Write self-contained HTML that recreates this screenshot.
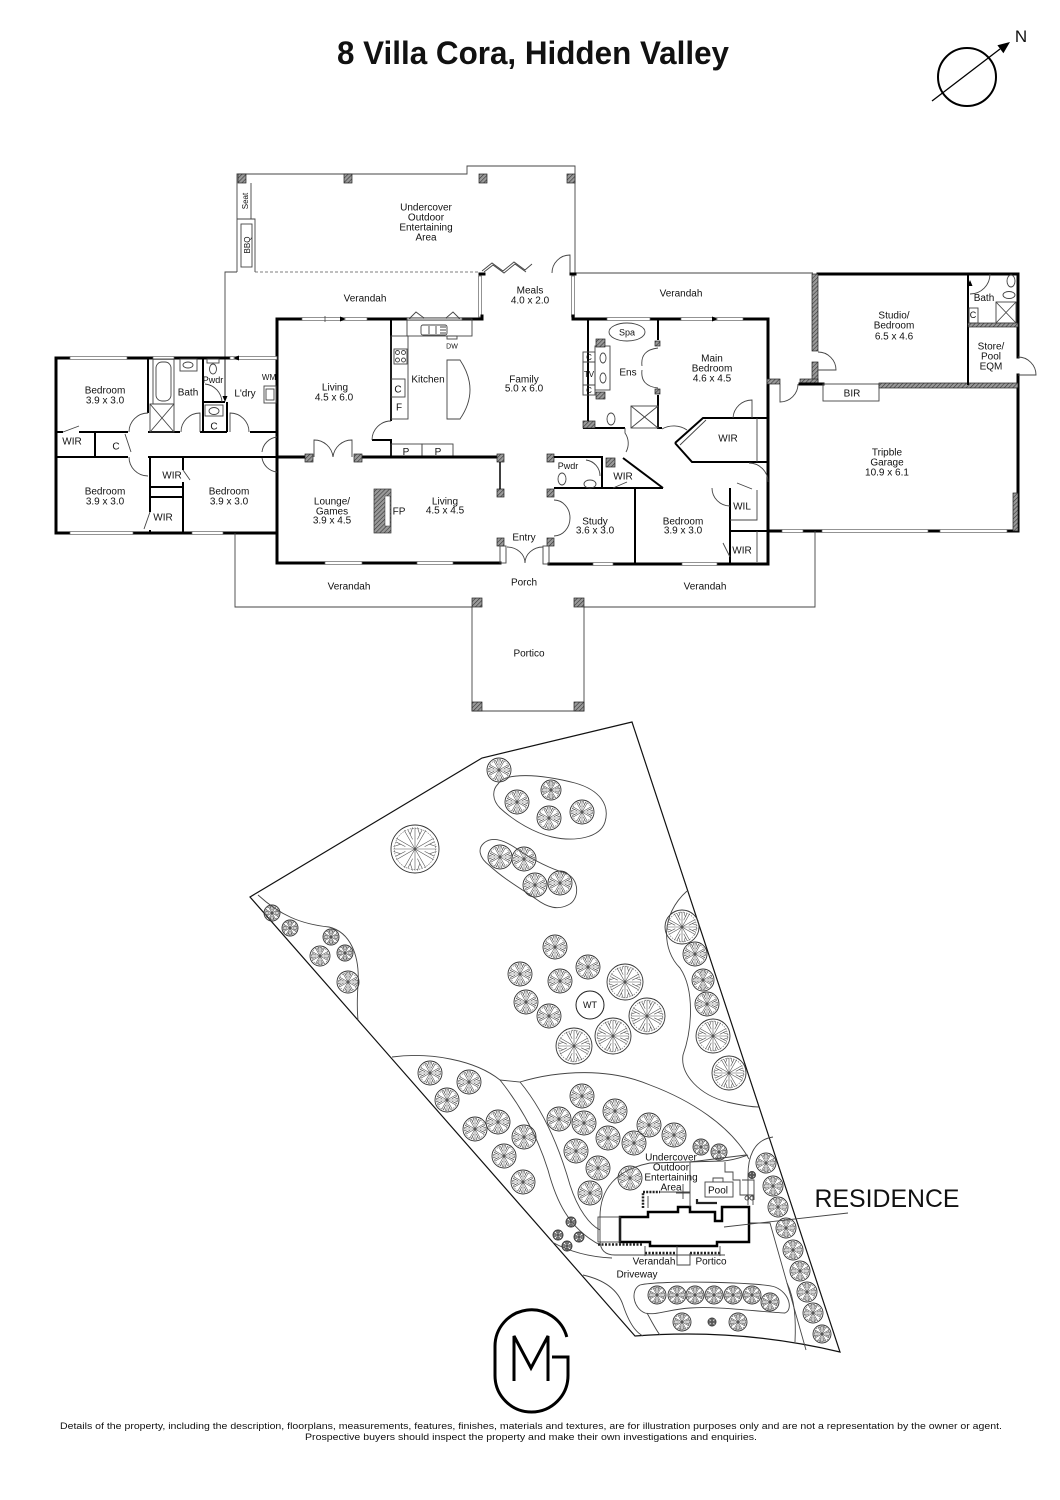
<!DOCTYPE html>
<html><head><meta charset="utf-8"><style>
html,body{margin:0;padding:0;background:#fff;}
svg{display:block;}
text{font-family:"Liberation Sans",Arial,sans-serif;fill:#111;}
.l{font-size:10px;text-anchor:middle;}
.s{font-size:8px;text-anchor:middle;}
.m{font-size:9px;text-anchor:middle;}
.w{stroke:#000;stroke-width:3;fill:none;stroke-linecap:square;}
.iw{stroke:#000;stroke-width:2;fill:none;}
.t{stroke:#444;stroke-width:0.9;fill:none;}
.win{fill:#fff;stroke:#666;stroke-width:0.7;}
.hp{fill:url(#h);stroke:#222;stroke-width:0.7;}
</style></head><body>
<svg width="1060" height="1500" viewBox="0 0 1060 1500" xmlns="http://www.w3.org/2000/svg">
<defs>
<pattern id="h" width="3" height="3" patternUnits="userSpaceOnUse" patternTransform="rotate(45)"><rect width="3" height="3" fill="#9a9a9a"/><line x1="0" y1="0" x2="0" y2="3" stroke="#333" stroke-width="1.2"/></pattern>
<g id="tr">
<circle r="10" fill="none" stroke="#333" stroke-width="0.9" vector-effect="non-scaling-stroke"/>
<circle r="8.6" fill="none" stroke="#666" stroke-width="0.6" stroke-dasharray="1.5,1.2" vector-effect="non-scaling-stroke"/>
<path d="M0,0L9,0M0,0L7.8,4.5M0,0L4.5,7.8M0,0L0,9M0,0L-4.5,7.8M0,0L-7.8,4.5M0,0L-9,0M0,0L-7.8,-4.5M0,0L-4.5,-7.8M0,0L0,-9M0,0L4.5,-7.8M0,0L7.8,-4.5M4,1L8,3M1,4L3,8M-4,1L-8,3M-1,4L-3,8M-4,-1L-8,-3M-1,-4L-3,-8M4,-1L8,-3M1,-4L3,-8M6,2L9,1M2,6L1,9M-6,2L-9,1M-2,6L-1,9M-6,-2L-9,-1M-2,-6L-1,-9M6,-2L9,-1M2,-6L1,-9" stroke="#555" stroke-width="0.6" fill="none" vector-effect="non-scaling-stroke"/>
</g>
</defs>
<rect width="1060" height="1500" fill="#fff"/>

<!-- Title -->
<text x="533" y="64" font-size="32" font-weight="bold" text-anchor="middle" textLength="392" lengthAdjust="spacingAndGlyphs">8 Villa Cora, Hidden Valley</text>

<!-- Compass -->
<circle cx="967" cy="77" r="29" fill="none" stroke="#000" stroke-width="2"/>
<line x1="932" y1="101" x2="1000" y2="49" stroke="#000" stroke-width="1.3"/>
<polygon points="1010,42 1003.4,53.3 997.4,45.3" fill="#000"/>
<text x="1021" y="42" font-size="17" text-anchor="middle">N</text>

<!-- ============ FLOOR PLAN ============ -->
<path class="t" d="M237,272 V174 H467 V166 H575 V273"/>
<path class="t" d="M251,183 V219 M237,219 H255 V272"/>
<rect class="t" x="241" y="224" width="11" height="43"/>
<text class="s" transform="translate(248,201) rotate(-90)">Seat</text>
<text class="s" transform="translate(250,245) rotate(-90)">BBQ</text>
<rect class="hp" x="238" y="174" width="8" height="9"/>
<rect class="hp" x="344" y="174" width="8" height="9"/>
<rect class="hp" x="479" y="174" width="8" height="9"/>
<rect class="hp" x="567" y="174" width="8" height="9"/>
<line x1="255" y1="272" x2="480" y2="272" stroke="#555" stroke-width="0.8" stroke-dasharray="3,2"/>
<path class="t" d="M225,359 V272 H237"/>
<path class="t" d="M575,273 H813"/>
<polyline class="t" points="482,271 492,263 503,271 514,262 525,270 532,264"/>
<polyline class="t" points="484,272 493,265 504,273 515,264 526,272"/>
<path class="t" d="M570,273 V255 A18,18 0 0 0 552,273"/>
<text class="l" x="426" y="210.5">Undercover</text>
<text class="l" x="426" y="220.5">Outdoor</text>
<text class="l" x="426" y="230.5">Entertaining</text>
<text class="l" x="426" y="240.5">Area</text>

<path class="w" d="M480,274 H484"/>
<rect class="win" x="478.5" y="276" width="3" height="41"/>
<path class="w" d="M462,319 H482 V316"/>
<path class="w" d="M571,274 H575"/>
<rect class="win" x="571.5" y="276" width="3" height="41"/>

<path class="w" d="M277,358 H56 V533 H277"/>
<path class="w" d="M277,319 V563 H500"/>
<path class="w" d="M277,319 H407"/>
<path class="w" d="M573,316 V319 H768 V564 H549"/>
<path class="w" d="M768,531 H1018 V375 M1018,357 V274 H818"/>

<rect class="win" x="70" y="356.5" width="57" height="3"/>
<rect class="win" x="153" y="356.5" width="21" height="3"/>
<rect class="win" x="230" y="356.5" width="47" height="3"/>
<polygon points="233,358 239,355.5 239,360.5" fill="#000"/>
<rect class="win" x="70" y="531.5" width="63" height="3"/>
<rect class="win" x="192" y="531.5" width="31" height="3"/>
<rect class="win" x="302" y="317.5" width="65" height="3"/>
<line x1="325" y1="316" x2="325" y2="322" stroke="#444" stroke-width="0.8"/>
<polygon points="346,319 340,316.5 340,321.5" fill="#000"/>
<rect class="win" x="407" y="317.5" width="55" height="3"/>
<polyline class="t" points="409,319 416,312 424,318"/>
<polyline class="t" points="446,318 453,312 460,319"/>
<rect class="win" x="325" y="561.5" width="37" height="3"/>
<rect class="win" x="417" y="561.5" width="36" height="3"/>
<rect class="win" x="607" y="317.5" width="43" height="3"/>
<rect class="win" x="681" y="317.5" width="62" height="3"/>
<polygon points="718,319 712,316.5 712,321.5" fill="#000"/>
<rect class="win" x="593" y="562.5" width="20" height="3"/>
<rect class="win" x="682" y="562.5" width="35" height="3"/>
<rect class="win" x="782" y="529.5" width="21" height="3"/>
<rect class="win" x="822" y="529.5" width="106" height="3"/>
<rect class="win" x="940" y="529.5" width="67" height="3"/>

<!-- Left wing internals -->
<path class="iw" d="M148,358 V413 M148,432 H180 M200,432 H227 M203,358 V432 M203,402 H225 M227,402 V432 M250,432 H277"/>
<path class="iw" d="M79,432 H128 M56,432 H63 M95,432 V457 M56,457 H128 M148,457 H277"/>
<path class="t" d="M63,432 L79,426 M125,434 L131,452"/>
<path class="t" d="M148,413 A19,19 0 0 0 129,432"/>
<path class="t" d="M148,476 A19,19 0 0 1 129,457"/>
<path class="t" d="M200,432 V413 A19,19 0 0 0 181,432"/>
<path class="t" d="M230,432 V413 A19,19 0 0 1 249,432"/>
<path class="t" d="M277,437 A17,17 0 0 0 262,452 M277,472 A17,17 0 0 1 262,458"/>
<path class="iw" d="M150,457 V512 M150,530 V533 M183,457 V470 M183,482 V533 M150,487 H183 M150,497 H183"/>
<path class="t" d="M150,512 L144,529 M183,470 L190,480"/>
<line x1="225" y1="359" x2="225" y2="400" stroke="#222" stroke-width="1"/>
<polygon points="225,402 222.5,396 227.5,396" fill="#000"/>
<path class="t" d="M205,384 A19,19 0 0 1 222,402"/>
<rect class="t" x="153" y="359" width="21" height="45"/>
<rect class="t" x="156" y="362" width="15" height="39" rx="6"/>
<rect class="t" x="150" y="404" width="24" height="28"/>
<path class="t" d="M150,404 L174,432 M174,404 L150,432"/>
<rect class="t" x="180" y="359" width="17" height="12"/>
<ellipse class="t" cx="188" cy="365" rx="5" ry="3"/>
<rect class="t" x="207" y="359" width="12" height="4"/>
<ellipse class="t" cx="213" cy="369" rx="3.5" ry="5"/>
<rect class="t" x="205" y="405" width="18" height="11"/>
<ellipse class="t" cx="214" cy="411" rx="5" ry="3.5"/>
<rect class="t" x="264" y="386" width="12" height="17"/>
<rect class="t" x="266" y="389" width="8" height="11"/>
<text class="l" x="105" y="393.5">Bedroom</text><text class="l" x="105" y="403.5">3.9 x 3.0</text>
<text class="l" x="188" y="395.5">Bath</text>
<text class="m" x="213" y="383">Pwdr</text>
<text class="l" x="214" y="429.5">C</text>
<text class="l" x="245" y="396.5">L'dry</text>
<text class="s" x="269" y="380">WM</text>
<text class="l" x="72" y="444.5">WIR</text>
<text class="l" x="116" y="449.5">C</text>
<text class="l" x="172" y="478.5">WIR</text>
<text class="l" x="163" y="520.5">WIR</text>
<text class="l" x="105" y="494.5">Bedroom</text><text class="l" x="105" y="504.5">3.9 x 3.0</text>
<text class="l" x="229" y="494.5">Bedroom</text><text class="l" x="229" y="504.5">3.9 x 3.0</text>

<!-- Central -->
<path class="iw" d="M391,319 V421 M372,440 H391 V457"/>
<path class="t" d="M391,421 A19,19 0 0 0 372,440"/>
<rect class="t" x="407" y="319" width="65" height="17"/>
<rect class="t" x="421" y="325" width="26" height="10" rx="2"/>
<path class="t" d="M429,326 V334 M436,326 V334 M440,327 H446 M440,330 H446 M440,333 H446"/>
<rect class="t" x="447" y="336" width="10" height="3"/>
<text x="452" y="348.5" font-size="7" text-anchor="middle">DW</text>
<rect class="t" x="391" y="336" width="17" height="83"/>
<rect class="t" x="394" y="349" width="13" height="15"/>
<circle class="t" cx="397.5" cy="352.5" r="2"/><circle class="t" cx="403.5" cy="352.5" r="2"/>
<circle class="t" cx="397.5" cy="360" r="2"/><circle class="t" cx="403.5" cy="360" r="2"/>
<rect class="t" x="391" y="379" width="14" height="18"/>
<path class="t" d="M447,360 H460 Q480,390 460,419 H447 Z"/>
<rect class="t" x="391" y="444" width="31" height="13"/>
<rect class="t" x="422" y="444" width="31" height="13"/>
<path class="w" d="M277,457 H305 M362,457 H497"/>
<rect class="hp" x="305" y="454" width="8" height="8"/>
<rect class="hp" x="354" y="454" width="8" height="8"/>
<path class="t" d="M314,457 V440 A19,19 0 0 1 333,457 M352,457 V440 A19,19 0 0 0 333,457"/>
<rect class="hp" x="497" y="454" width="7" height="8"/>
<rect class="hp" x="497" y="489" width="7" height="8"/>
<rect class="hp" x="497" y="538" width="7" height="8"/>
<line x1="500" y1="462" x2="500" y2="489" stroke="#000" stroke-width="1.5"/>
<rect class="hp" x="547" y="454" width="7" height="8"/>
<rect class="hp" x="547" y="489" width="7" height="8"/>
<rect class="hp" x="547" y="538" width="7" height="8"/>
<rect class="t" x="500" y="546" width="6" height="17"/>
<rect class="t" x="543" y="546" width="6" height="18"/>
<path class="t" d="M507,547 A18,16 0 0 1 525,563 M543,547 A18,16 0 0 0 525,563"/>
<path class="t" d="M554,500 A16,18 0 0 1 554,536"/>
<rect x="374" y="489" width="17" height="44" fill="url(#h)" stroke="#333" stroke-width="0.7"/>
<rect x="385" y="496" width="5" height="30" fill="#fff" stroke="#333" stroke-width="0.5"/>
<text class="l" x="335" y="390.5">Living</text><text class="l" x="334" y="400.5">4.5 x 6.0</text>
<text class="l" x="428" y="382.5">Kitchen</text>
<text class="l" x="524" y="382.5">Family</text><text class="l" x="524" y="391.5">5.0 x 6.0</text>
<text class="l" x="398" y="392.5">C</text>
<text class="l" x="399" y="410.5">F</text>
<text class="l" x="406" y="455">P</text><text class="l" x="438" y="455">P</text>
<text class="l" x="332" y="504.5">Lounge/</text><text class="l" x="332" y="514.5">Games</text><text class="l" x="332" y="523.5">3.9 x 4.5</text>
<text class="l" x="399" y="514.5">FP</text>
<text class="l" x="445" y="504.5">Living</text><text class="l" x="445" y="513.5">4.5 x 4.5</text>
<text class="l" x="524" y="540.5">Entry</text>
<text class="l" x="365" y="301.5">Verandah</text>
<text class="l" x="530" y="293.5">Meals</text><text class="l" x="530" y="303.5">4.0 x 2.0</text>
<text class="l" x="681" y="296.5">Verandah</text>

<!-- Right block internals -->
<path class="iw" d="M588,319 V428 M583,428 H625 M658,319 V340 M658,395 V428 H662"/>
<rect class="t" x="583" y="352" width="12" height="10"/>
<rect class="t" x="583" y="362" width="12" height="23"/>
<rect class="t" x="583" y="385" width="12" height="10"/>
<rect class="t" x="595" y="346" width="15" height="44"/>
<ellipse class="t" cx="603" cy="358" rx="3" ry="5"/>
<ellipse class="t" cx="603" cy="378" rx="3" ry="5"/>
<rect class="hp" x="596" y="339" width="9" height="8"/>
<rect class="hp" x="596" y="392" width="9" height="7"/>
<rect class="hp" x="583" y="421" width="12" height="7"/>
<ellipse class="t" cx="627" cy="332" rx="18" ry="9"/>
<rect class="hp" x="655" y="341" width="5" height="5"/>
<rect class="hp" x="655" y="389" width="5" height="5"/>
<path class="t" d="M658,348 Q640,350 642,366 M658,388 Q640,386 642,370"/>
<rect class="t" x="631" y="406" width="27" height="22"/>
<path class="t" d="M631,406 L658,428 M658,406 L631,428"/>
<ellipse class="t" cx="611" cy="419" rx="4" ry="6"/>
<path class="t" d="M625,428 V433 A18,18 0 0 1 626,452"/>
<path class="t" d="M662,429 A24,24 0 0 1 687,430"/>
<path class="iw" d="M675,443 L703,418 H768 M675,443 L692,462 H768"/>
<path class="t" d="M680,445 L706,420 M757,418 V462"/>
<path class="t" d="M752,418 V400 A19,19 0 0 0 733,418"/>
<path class="t" d="M749,463 A19,19 0 0 1 768,482"/>
<path class="iw" d="M554,457 H602 V488 M554,488 H663 M623,458 L663,488 M635,488 V564 M730,488 V564 M730,531 H768"/>
<path class="t" d="M730,520 H757 V490 M757,531 V562 M737,483 L752,489 M723,543 L730,557 M613,488 L627,482"/>
<path class="t" d="M712,488 A18,18 0 0 0 730,506"/>
<path class="t" d="M586,460 A16,16 0 0 1 600,476"/>
<rect class="hp" x="606" y="458" width="9" height="9"/>
<ellipse class="t" cx="562" cy="479" rx="4" ry="6"/>
<ellipse class="t" cx="590" cy="484" rx="6" ry="4"/>
<text class="s" x="589" y="360">C</text>
<text class="s" x="589" y="377">TV</text>
<text class="s" x="589" y="393">C</text>
<text class="m" x="627" y="335.5">Spa</text>
<text class="l" x="628" y="375.5">Ens</text>
<text class="l" x="712" y="361.5">Main</text><text class="l" x="712" y="371.5">Bedroom</text><text class="l" x="712" y="381.5">4.6 x 4.5</text>
<text class="l" x="728" y="441.5">WIR</text>
<text class="m" x="568" y="469">Pwdr</text>
<text class="l" x="623" y="479.5">WIR</text>
<text class="l" x="595" y="524.5">Study</text><text class="l" x="595" y="533.5">3.6 x 3.0</text>
<text class="l" x="683" y="524.5">Bedroom</text><text class="l" x="683" y="533.5">3.9 x 3.0</text>
<text class="l" x="742" y="509.5">WIL</text>
<text class="l" x="742" y="553.5">WIR</text>

<!-- Studio / garage -->
<rect class="hp" x="812" y="274" width="6" height="77"/>
<rect class="hp" x="812" y="362" width="6" height="22"/>
<rect class="hp" x="800" y="379" width="18" height="5"/>
<rect class="hp" x="767" y="379" width="13" height="5"/>
<path class="t" d="M780,384 V402 A18,18 0 0 0 798,384"/>
<path class="t" d="M818,370 H836 A18,18 0 0 0 818,352"/>
<path class="w" d="M800,384 H823"/>
<rect class="t" x="823" y="384" width="56" height="17"/>
<rect class="hp" x="879" y="383" width="139" height="5"/>
<path d="M968,274 V385" stroke="#000" stroke-width="2"/>
<rect class="hp" x="968" y="323" width="50" height="4"/>
<path class="t" d="M970,294 A20,20 0 0 0 990,274"/>
<polygon points="970,280 967.5,286 972.5,286" fill="#000"/>
<ellipse class="t" cx="1011" cy="281" rx="4" ry="6"/>
<ellipse class="t" cx="1009" cy="295" rx="6" ry="3.5"/>
<rect class="t" x="996" y="302" width="20" height="21"/>
<path class="t" d="M996,302 L1016,323 M1016,302 L996,323"/>
<rect class="t" x="969" y="308" width="9" height="15"/>
<path class="t" d="M1018,375 H1036 A18,18 0 0 0 1018,357"/>
<rect class="hp" x="1013" y="493" width="5" height="38"/>
<text class="l" x="894" y="318.5">Studio/</text><text class="l" x="894" y="328.5">Bedroom</text><text class="l" x="894" y="339.5">6.5 x 4.6</text>
<text class="l" x="984" y="301">Bath</text>
<text class="m" x="973" y="318">C</text>
<text class="l" x="991" y="349.5">Store/</text><text class="l" x="991" y="359.5">Pool</text><text class="l" x="991" y="369.5">EQM</text>
<text class="l" x="852" y="396.5">BIR</text>
<text class="l" x="887" y="455.5">Tripble</text><text class="l" x="887" y="465.5">Garage</text><text class="l" x="887" y="475.5">10.9 x 6.1</text>

<!-- Verandah & Portico -->
<path class="t" d="M235,533 V607 H472 V711 H584 V607 H815 V531"/>
<rect class="hp" x="472" y="598" width="10" height="9"/>
<rect class="hp" x="574" y="598" width="10" height="9"/>
<rect class="hp" x="472" y="702" width="10" height="9"/>
<rect class="hp" x="574" y="702" width="10" height="9"/>
<text class="l" x="524" y="585.5">Porch</text>
<text class="l" x="349" y="589.5">Verandah</text>
<text class="l" x="705" y="589.5">Verandah</text>
<text class="l" x="529" y="656.5">Portico</text>

<!-- ============ SITE PLAN ============ -->
<path d="M250,897 L482,758 L632,722 L840,1352 Q740,1328 635,1336 Z" fill="none" stroke="#111" stroke-width="1.2"/>
<path class="t" d="M498,784 C505,772 540,774 575,783 C600,790 610,805 605,822 C600,838 575,842 552,837 C535,833 515,822 500,808 C492,800 492,790 498,784 Z"/>
<path class="t" d="M484,843 C492,836 505,840 520,851 C535,861 552,869 565,873 C580,878 580,900 568,905 C558,910 548,908 536,899 C520,888 504,879 490,866 C478,857 478,848 484,843 Z"/>
<path class="t" d="M258,895 C280,915 300,924 329,927 C350,932 360,955 358,985 C357,1000 357,1010 358,1020"/>
<path class="t" d="M687,891 C660,915 662,950 680,968 C695,990 692,1030 683,1055 C680,1075 700,1095 727,1102 C740,1105 750,1107 759,1107"/>
<path class="t" d="M392,1057 C430,1052 475,1060 500,1080 C520,1105 537,1135 548,1170 C556,1200 568,1228 600,1245"/>
<path class="t" d="M500,1080 L520,1082 C545,1112 560,1150 570,1185 C578,1210 590,1225 600,1230"/>
<path class="t" d="M520,1082 C560,1070 610,1068 650,1085 C690,1100 730,1125 749,1159"/>
<path class="t" d="M600,1240 V1217 C600,1190 615,1170 650,1163 L723,1161 C735,1160 742,1157 748,1155"/>
<path class="t" d="M600,1240 C600,1250 605,1255 615,1255 L725,1255"/>
<path class="t" d="M552,1242 C570,1252 590,1257 612,1258"/>
<path class="t" d="M773,1137 C752,1140 748,1160 748,1175 L748,1205"/>
<path class="t" d="M749,1223 L770,1223 L806,1350"/>
<path class="t" d="M583,1275 C605,1280 618,1290 623,1305 C628,1320 635,1332 643,1336"/>
<path class="t" d="M647,1313 C652,1322 656,1330 660,1335"/>
<path class="t" d="M787,1283 C795,1300 796,1320 795,1342"/>
<path class="t" d="M640,1285 C660,1280 760,1282 775,1287 C790,1293 793,1310 785,1313 C760,1312 720,1306 690,1308 C670,1309 655,1316 645,1313 C633,1308 630,1290 640,1285 Z"/>

<g>
<use href="#tr" transform="translate(499,770) scale(1.2)"/>
<use href="#tr" transform="translate(517,802) scale(1.2)"/>
<use href="#tr" transform="translate(551,790) scale(1.0)"/>
<use href="#tr" transform="translate(549,818) scale(1.2)"/>
<use href="#tr" transform="translate(582,812) scale(1.2)"/>
<use href="#tr" transform="translate(500,857) scale(1.2)"/>
<use href="#tr" transform="translate(524,859) scale(1.2)"/>
<use href="#tr" transform="translate(535,885) scale(1.2)"/>
<use href="#tr" transform="translate(560,883) scale(1.2)"/>
<use href="#tr" transform="translate(415,849) scale(2.4)"/>
<use href="#tr" transform="translate(272,913) scale(0.8)"/>
<use href="#tr" transform="translate(290,928) scale(0.8)"/>
<use href="#tr" transform="translate(331,937) scale(0.8)"/>
<use href="#tr" transform="translate(320,956) scale(1.0)"/>
<use href="#tr" transform="translate(345,953) scale(0.8)"/>
<use href="#tr" transform="translate(348,982) scale(1.1)"/>
<use href="#tr" transform="translate(555,947) scale(1.2)"/>
<use href="#tr" transform="translate(588,967) scale(1.2)"/>
<use href="#tr" transform="translate(520,974) scale(1.2)"/>
<use href="#tr" transform="translate(560,981) scale(1.2)"/>
<use href="#tr" transform="translate(625,982) scale(1.8)"/>
<use href="#tr" transform="translate(526,1002) scale(1.2)"/>
<use href="#tr" transform="translate(549,1016) scale(1.2)"/>
<use href="#tr" transform="translate(647,1016) scale(1.8)"/>
<use href="#tr" transform="translate(613,1036) scale(1.8)"/>
<use href="#tr" transform="translate(574,1046) scale(1.8)"/>
<use href="#tr" transform="translate(682,927) scale(1.7)"/>
<use href="#tr" transform="translate(695,954) scale(1.2)"/>
<use href="#tr" transform="translate(703,980) scale(1.1)"/>
<use href="#tr" transform="translate(707,1004) scale(1.2)"/>
<use href="#tr" transform="translate(713,1036) scale(1.7)"/>
<use href="#tr" transform="translate(729,1073) scale(1.7)"/>
<use href="#tr" transform="translate(430,1073) scale(1.2)"/>
<use href="#tr" transform="translate(469,1082) scale(1.2)"/>
<use href="#tr" transform="translate(447,1100) scale(1.2)"/>
<use href="#tr" transform="translate(475,1129) scale(1.2)"/>
<use href="#tr" transform="translate(498,1122) scale(1.2)"/>
<use href="#tr" transform="translate(524,1137) scale(1.2)"/>
<use href="#tr" transform="translate(504,1156) scale(1.2)"/>
<use href="#tr" transform="translate(523,1182) scale(1.2)"/>
<use href="#tr" transform="translate(582,1096) scale(1.2)"/>
<use href="#tr" transform="translate(559,1119) scale(1.2)"/>
<use href="#tr" transform="translate(584,1123) scale(1.2)"/>
<use href="#tr" transform="translate(615,1111) scale(1.2)"/>
<use href="#tr" transform="translate(649,1125) scale(1.2)"/>
<use href="#tr" transform="translate(608,1138) scale(1.2)"/>
<use href="#tr" transform="translate(634,1143) scale(1.2)"/>
<use href="#tr" transform="translate(674,1135) scale(1.2)"/>
<use href="#tr" transform="translate(701,1147) scale(0.8)"/>
<use href="#tr" transform="translate(719,1152) scale(0.8)"/>
<use href="#tr" transform="translate(576,1151) scale(1.2)"/>
<use href="#tr" transform="translate(598,1168) scale(1.2)"/>
<use href="#tr" transform="translate(590,1193) scale(1.2)"/>
<use href="#tr" transform="translate(630,1178) scale(1.2)"/>
<use href="#tr" transform="translate(571,1222) scale(0.5)"/>
<use href="#tr" transform="translate(558,1235) scale(0.5)"/>
<use href="#tr" transform="translate(579,1237) scale(0.5)"/>
<use href="#tr" transform="translate(567,1246) scale(0.5)"/>
<use href="#tr" transform="translate(766,1163) scale(1.0)"/>
<use href="#tr" transform="translate(773,1186) scale(1.0)"/>
<use href="#tr" transform="translate(778,1207) scale(1.0)"/>
<use href="#tr" transform="translate(786,1228) scale(1.0)"/>
<use href="#tr" transform="translate(793,1250) scale(1.0)"/>
<use href="#tr" transform="translate(800,1271) scale(1.0)"/>
<use href="#tr" transform="translate(807,1292) scale(1.0)"/>
<use href="#tr" transform="translate(813,1313) scale(1.0)"/>
<use href="#tr" transform="translate(822,1334) scale(0.9)"/>
<use href="#tr" transform="translate(657,1295) scale(0.9)"/>
<use href="#tr" transform="translate(677,1295) scale(0.9)"/>
<use href="#tr" transform="translate(695,1295) scale(0.9)"/>
<use href="#tr" transform="translate(714,1295) scale(0.9)"/>
<use href="#tr" transform="translate(733,1295) scale(0.9)"/>
<use href="#tr" transform="translate(752,1295) scale(0.9)"/>
<use href="#tr" transform="translate(770,1302) scale(0.9)"/>
<use href="#tr" transform="translate(682,1322) scale(0.9)"/>
<use href="#tr" transform="translate(712,1322) scale(0.4)"/>
<use href="#tr" transform="translate(738,1322) scale(0.9)"/>
<use href="#tr" transform="translate(752,1175) scale(0.35)"/>
</g>
<circle cx="590" cy="1005" r="14" fill="#fff" stroke="#222" stroke-width="1"/>
<text class="m" x="590" y="1008">WT</text>

<!-- Residence -->
<path d="M620,1217 H648 V1212 H678 V1207 H690 V1212 H715 V1221 H722 V1207 H749 V1242 H717 V1246 H650 V1242 H620 Z" fill="#fff" stroke="#000" stroke-width="2.5"/>
<rect class="t" x="598" y="1217" width="22" height="25"/>
<line x1="598" y1="1244.5" x2="643" y2="1244.5" stroke="#222" stroke-width="2.5" stroke-dasharray="2,1.5"/>
<line x1="645" y1="1253" x2="677" y2="1253" stroke="#222" stroke-width="2.5" stroke-dasharray="2,1.5"/>
<line x1="690" y1="1253" x2="720" y2="1253" stroke="#222" stroke-width="2.5" stroke-dasharray="2,1.5"/>
<path class="t" d="M645,1246 V1256 M677,1246 V1265 H690 V1253 M720,1246 V1256"/>
<path d="M643,1208 V1192 H660" fill="none" stroke="#222" stroke-width="2.5" stroke-dasharray="2,1.2"/>
<path class="t" d="M648,1196 V1208 M660,1192 H690 M690,1162 V1207 M690,1162 L746,1155"/>
<rect class="t" x="705" y="1182" width="28" height="15"/>
<path class="t" d="M713,1182 V1178 H723 V1182"/>
<path class="t" d="M725,1162 V1172 H733 V1180 H740 V1195 H753 V1205 M742,1180 H754 V1200"/>
<circle class="t" cx="747" cy="1198" r="2"/><circle class="t" cx="752" cy="1198" r="2"/>
<path d="M697,1199 V1203 H717" fill="none" stroke="#222" stroke-width="2.2"/>
<path class="t" d="M683,1184 V1199 M676,1193 H690"/>
<path class="t" d="M724,1227 L848,1213"/>
<text class="l" x="671" y="1160.5">Undercover</text>
<text class="l" x="671" y="1170.5">Outdoor</text>
<text class="l" x="671" y="1180.5">Entertaining</text>
<text class="l" x="671" y="1190.5">Area</text>
<text class="l" x="718" y="1193.5">Pool</text>
<text class="l" x="654" y="1264.5">Verandah</text>
<text class="l" x="711" y="1264.5">Portico</text>
<text class="l" x="637" y="1277.5">Driveway</text>
<text x="887" y="1207" font-size="25" text-anchor="middle" textLength="145" lengthAdjust="spacingAndGlyphs">RESIDENCE</text>

<!-- Logo -->
<path d="M552,1357 H568 V1375.5 A36.5,36.5 0 0 1 495,1375.5 V1346.5 A36.5,36.5 0 0 1 566.8,1337" fill="none" stroke="#000" stroke-width="3"/>
<polyline points="514,1381 514,1336 531,1368 548,1336 548,1381" fill="none" stroke="#000" stroke-width="3" stroke-linejoin="miter"/>

<!-- Footer -->
<text x="531" y="1429" font-size="9" text-anchor="middle" fill="#333" textLength="942" lengthAdjust="spacingAndGlyphs">Details of the property, including the description, floorplans, measurements, features, finishes, materials and textures, are for illustration purposes only and are not a representation by the owner or agent.</text>
<text x="531" y="1440" font-size="9" text-anchor="middle" fill="#333" textLength="452" lengthAdjust="spacingAndGlyphs">Prospective buyers should inspect the property and make their own investigations and enquiries.</text>
</svg>
</body></html>
